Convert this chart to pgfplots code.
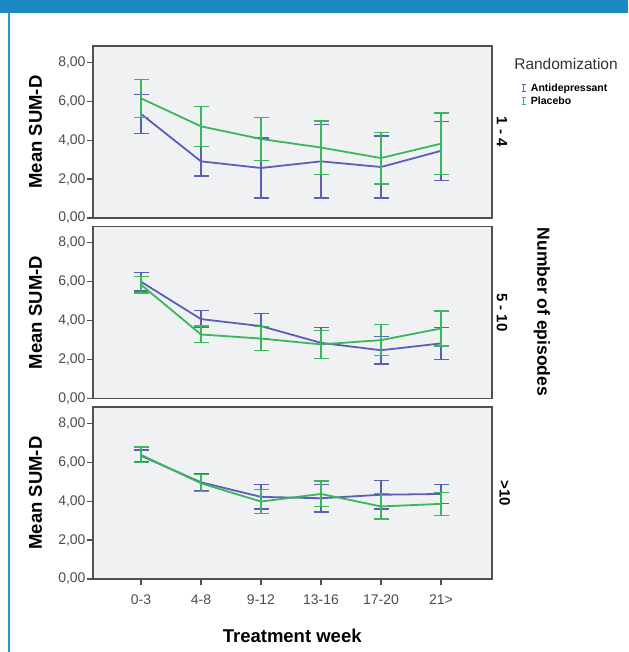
\documentclass[border=0pt]{standalone}
\usepackage{fontspec}
\setmainfont{Liberation Sans}
\usepackage{pgfplots}
\pgfplotsset{compat=1.18}

\definecolor{adblue}{RGB}{92,94,186}
\definecolor{plgreen}{RGB}{58,182,92}
\definecolor{plotbg}{RGB}{240,241,243}
\definecolor{framegray}{RGB}{80,80,80}
\definecolor{barblue}{RGB}{28,137,195}
\definecolor{edgeblue}{RGB}{38,150,214}

\pgfplotsset{
  panel/.style={
    scale only axis, width=399pt, height=172pt,
    xmin=-0.805, xmax=5.845, ymin=0, ymax=8.84,
    axis background/.style={fill=plotbg},
    axis line style={draw=framegray, line width=1.6pt},
    tick pos=left, tick align=outside, major tick length=6pt,
    tick style={draw=framegray, line width=1.2pt},
    ytick={0,2,4,6,8},
    yticklabels={{0,00},{2,00},{4,00},{6,00},{8,00}},
    yticklabel style={font=\fontsize{14}{15}\selectfont, text=black!70, inner sep=1pt},
    xtick=\empty,
    ylabel={Mean SUM-D},
    ylabel style={at={(axis description cs:-0.1434,0.5)}, anchor=center,
      font=\fontsize{18.5}{20}\selectfont\bfseries},
    clip=false,
  },
  ad/.style={adblue, line width=1.8pt, mark=none, forget plot,
    error bars/y dir=both, error bars/y explicit,
    error bars/error bar style={line width=1.3pt},
    error bars/error mark options={rotate=90, mark size=7.5pt, line width=1.3pt}},
  pl/.style={plgreen, line width=1.8pt, mark=none, forget plot,
    error bars/y dir=both, error bars/y explicit,
    error bars/error bar style={line width=1.3pt},
    error bars/error mark options={rotate=90, mark size=7.5pt, line width=1.3pt}},
  ebarlegend/.style={legend image code/.code={
    \draw[line width=1pt, #1] (0pt,-3.5pt)--(0pt,3.5pt)
      (-2pt,-3.5pt)--(2pt,-3.5pt) (-2pt,3.5pt)--(2pt,3.5pt);}},
}

\begin{document}
\begin{tikzpicture}
\useasboundingbox (0pt,0pt) rectangle (628pt,652pt);
\fill[white] (0pt,0pt) rectangle (628pt,652pt);
\fill[barblue] (0pt,639pt) rectangle (628pt,652pt);
\fill[edgeblue] (7.5pt,0pt) rectangle (9.5pt,639pt);

% 1 - 4 episodes
\begin{axis}[panel, at={(92.7pt,606pt)}, anchor=north west,
  legend style={at={(axis description cs:1.074,0.79)}, anchor=north west,
    draw=none, fill=none, font=\fontsize{10.5}{12}\selectfont\bfseries,
    row sep=0.6pt, inner sep=0pt, nodes={inner sep=1.5pt}},
  legend cell align=left]
\addplot[ad] coordinates {
  (0,5.35) +- (0,1.00) (1,2.91) +- (0,0.75) (2,2.57) +- (0,1.54)
  (3,2.91) +- (0,1.88) (4,2.62) +- (0,1.59) (5,3.45) +- (0,1.52)};
\addplot[pl] coordinates {
  (0,6.15) +- (0,0.97) (1,4.71) +- (0,1.03) (2,4.06) +- (0,1.12)
  (3,3.62) +- (0,1.37) (4,3.08) +- (0,1.33) (5,3.82) +- (0,1.57)};
\addlegendimage{ebarlegend=adblue}
\addlegendentry{\hspace{3pt}Antidepressant}
\addlegendimage{ebarlegend=plgreen}
\addlegendentry{\hspace{3pt}Placebo}
\node[rotate=-90, font=\fontsize{15}{16}\selectfont\bfseries]
  at (axis description cs:1.0258,0.5) {1 - 4};
\end{axis}

% 5 - 10 episodes
\begin{axis}[panel, at={(92.7pt,425.5pt)}, anchor=north west]
\addplot[ad] coordinates {
  (0,6.00) +- (0,0.47) (1,4.08) +- (0,0.44) (2,3.72) +- (0,0.65)
  (3,2.86) +- (0,0.80) (4,2.48) +- (0,0.70) (5,2.83) +- (0,0.83)};
\addplot[pl] coordinates {
  (0,5.85) +- (0,0.43) (1,3.29) +- (0,0.43) (2,3.08) +- (0,0.63)
  (3,2.78) +- (0,0.71) (4,3.00) +- (0,0.80) (5,3.60) +- (0,0.90)};
\node[rotate=-90, font=\fontsize{15}{16}\selectfont\bfseries]
  at (axis description cs:1.0258,0.5) {5 - 10};
\end{axis}

% >10 episodes
\begin{axis}[panel, at={(92.7pt,245pt)}, anchor=north west,
  xtick={0,...,5},
  xticklabels={0-3,4-8,9-12,13-16,17-20,21>},
  xticklabel style={font=\fontsize{14}{15}\selectfont, text=black!70, yshift=-6pt},
  xlabel={Treatment week},
  xlabel style={at={(axis description cs:0.5,-0.33)}, anchor=center,
    font=\fontsize{18.5}{20}\selectfont\bfseries}]
\addplot[ad] coordinates {
  (0,6.33) +- (0,0.30) (1,4.97) +- (0,0.42) (2,4.22) +- (0,0.62)
  (3,4.15) +- (0,0.70) (4,4.33) +- (0,0.74) (5,4.37) +- (0,0.50)};
\addplot[pl] coordinates {
  (0,6.38) +- (0,0.40) (1,4.92) +- (0,0.44) (2,3.98) +- (0,0.62)
  (3,4.37) +- (0,0.66) (4,3.73) +- (0,0.65) (5,3.86) +- (0,0.60)};
\node[rotate=-90, font=\fontsize{15}{16}\selectfont\bfseries]
  at (axis description cs:1.0326,0.5) {>10};
\end{axis}

\node[font=\fontsize{15.5}{17}\selectfont, text=black!80] at (566pt,588pt) {Randomization};
\node[rotate=-90, font=\fontsize{17.5}{19}\selectfont\bfseries] at (542pt,340pt) {Number of episodes};
\end{tikzpicture}
\end{document}
